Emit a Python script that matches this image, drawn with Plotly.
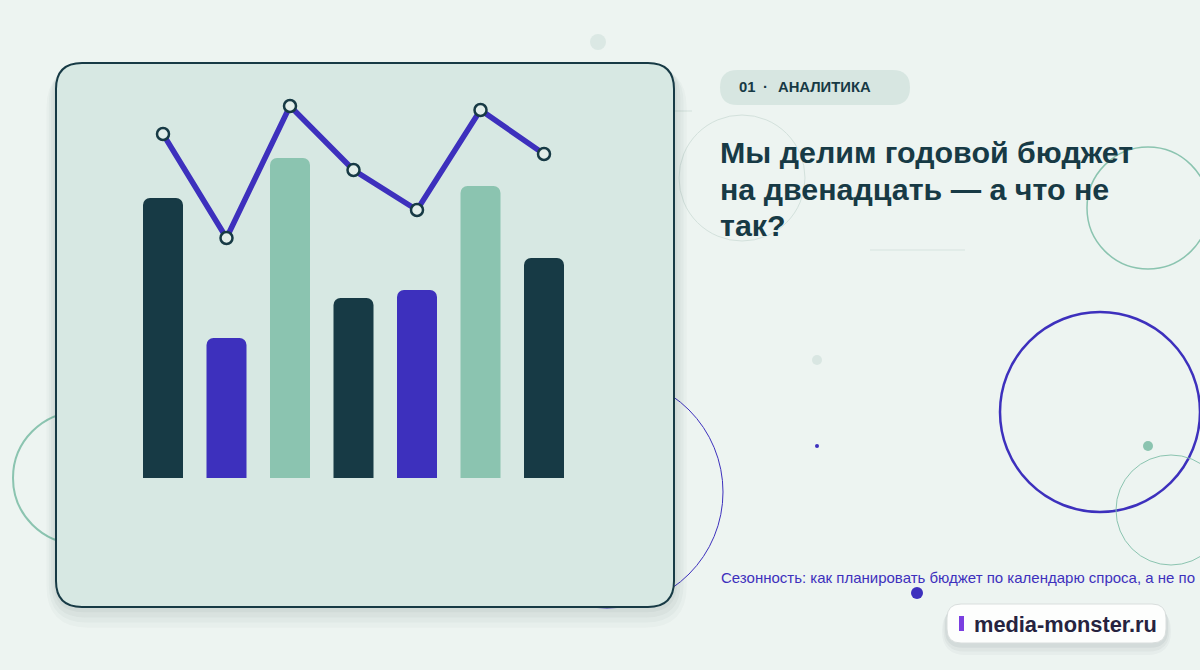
import plotly.graph_objects as go

W, H = 1200, 670

# ---- data ----
categories = ["1", "2", "3", "4", "5", "6", "7"]
bar_values = [70, 35, 80, 45, 47, 73, 55]
line_values = [86, 60, 93, 77, 67, 92, 81]
bar_colors = ["#173a45", "#3d30bd", "#8bc4b0", "#173a45", "#3d30bd", "#8bc4b0", "#173a45"]

tag_num = "01"
tag_dot = "·"
tag_word = "АНАЛИТИКА"
title_lines = ["Мы делим годовой бюджет", "на двенадцать — а что не", "так?"]
subtitle_text = "Сезонность: как планировать бюджет по календарю спроса, а не по"
logo_text = "media-monster.ru"

DARK = "#173a45"
BLUE = "#3d30bd"
GREEN = "#8bc4b0"
FONT = "Liberation Sans, Arial, sans-serif"


def px(x):
    return x / W


def py(y):
    return 1 - y / H


def rrect(x0, y0, x1, y1, r):
    pts = [
        f"M {px(x0 + r)} {py(y0)}",
        f"L {px(x1 - r)} {py(y0)}",
        f"Q {px(x1)} {py(y0)} {px(x1)} {py(y0 + r)}",
        f"L {px(x1)} {py(y1 - r)}",
        f"Q {px(x1)} {py(y1)} {px(x1 - r)} {py(y1)}",
        f"L {px(x0 + r)} {py(y1)}",
        f"Q {px(x0)} {py(y1)} {px(x0)} {py(y1 - r)}",
        f"L {px(x0)} {py(y0 + r)}",
        f"Q {px(x0)} {py(y0)} {px(x0 + r)} {py(y0)}",
        "Z",
    ]
    return " ".join(pts)


shapes = []


def circle(cx, cy, r, line=None, width=1, fill="rgba(0,0,0,0)"):
    shapes.append(dict(
        type="circle", xref="paper", yref="paper", layer="below",
        x0=px(cx - r), x1=px(cx + r), y0=py(cy + r), y1=py(cy - r),
        line=dict(color=line if line else "rgba(0,0,0,0)", width=width if line else 0),
        fillcolor=fill,
    ))


def rect_path(x0, y0, x1, y1, r, fill, line=None, width=0):
    shapes.append(dict(
        type="path", xref="paper", yref="paper", layer="below",
        path=rrect(x0, y0, x1, y1, r), fillcolor=fill,
        line=dict(color=line if line else "rgba(0,0,0,0)", width=width if line else 0),
    ))


def hline(x0, x1, y, color, width=1):
    shapes.append(dict(
        type="line", xref="paper", yref="paper", layer="below",
        x0=px(x0), x1=px(x1), y0=py(y), y1=py(y),
        line=dict(color=color, width=width),
    ))


# background decorations (behind card)
circle(598, 42, 8, fill="#dbe8e4")
circle(79, 478, 66, line=GREEN, width=2)
circle(607, 492, 116, line=BLUE, width=1)
circle(742, 178, 63, line="#d3e1dc", width=1)
hline(674, 692, 111, "#d3e1dc")
hline(870, 965, 250, "#d6e3df")
circle(1148, 208, 61, line=GREEN, width=1.5)
circle(1100, 412, 100, line=BLUE, width=2.5)
circle(1171, 510, 55, line=GREEN, width=1)
circle(1148, 446, 5, fill=GREEN)
circle(817, 360, 5, fill="#d9e6e2")
circle(817, 446, 2, fill=BLUE)
circle(917, 593, 6, fill=BLUE)

# card shadow
for i, a in enumerate([0.025, 0.03, 0.035, 0.04]):
    g = 16 - i * 4
    rect_path(56 - g * 0.6, 63 + g * 0.2, 674 + g * 0.8, 607 + g * 1.3, 26 + g,
              f"rgba(20,50,60,{a})")

# card
rect_path(56, 63, 674, 607, 26, "#d7e8e3", line=DARK, width=2)

# tag pill
rect_path(720, 70, 910, 105, 17.5, "#d7e6e1")

# logo badge shadow + badge
for i, a in enumerate([0.03, 0.04, 0.05]):
    g = 10 - i * 3
    rect_path(947 - g * 0.5, 604 + g * 0.3, 1166 + g * 0.5, 643 + g * 1.2, 14 + g,
              f"rgba(20,40,50,{a})")
rect_path(947, 604, 1166, 643, 14, "#fdfefd", line="#d9dedd", width=1)
shapes.append(dict(
    type="rect", xref="paper", yref="paper", layer="above",
    x0=px(959), x1=px(964), y0=py(631), y1=py(616),
    fillcolor="#7a3fe0", line=dict(width=0),
))

fig = go.Figure()

fig.add_trace(go.Bar(
    x=categories, y=bar_values,
    marker=dict(color=bar_colors, cornerradius=7, line=dict(width=0)),
    width=0.63, hoverinfo="skip",
))
fig.add_trace(go.Scatter(
    x=categories, y=line_values, mode="lines+markers",
    line=dict(color=BLUE, width=5.5),
    marker=dict(size=12, color="#e2eeea", line=dict(color=DARK, width=2.5)),
    hoverinfo="skip",
))


def ann(text, x, y, size, color, bold=False, xanchor="left", yanchor="middle"):
    return dict(text=f"<b>{text}</b>" if bold else text, x=px(x), y=py(y),
                xref="paper", yref="paper", xanchor=xanchor, yanchor=yanchor,
                align="left", showarrow=False,
                font=dict(family=FONT, size=size, color=color))


annotations = [
    ann(tag_num, 737, 87, 14.8, DARK, bold=True),
    ann(tag_dot, 765, 87, 14.8, DARK, bold=True, xanchor="center"),
    ann(tag_word, 776, 87, 14.8, DARK, bold=True),
    ann(subtitle_text, 719, 577, 15, BLUE),
    ann(logo_text, 972, 624, 21.8, "#26233f", bold=True),
]
for i, line in enumerate(title_lines):
    annotations.append(ann(line, 718, 152 + i * 36.7, 30.4, DARK, bold=True))

fig.update_layout(
    width=W, height=H,
    margin=dict(l=0, r=0, t=0, b=0),
    paper_bgcolor="#edf4f1",
    plot_bgcolor="rgba(0,0,0,0)",
    showlegend=False,
    shapes=shapes,
    annotations=annotations,
    bargap=0.3,
    xaxis=dict(domain=[px(131.25), px(575.75)], range=[-0.5, 6.5], type="category",
               visible=False, fixedrange=True),
    yaxis=dict(domain=[py(478), py(78)], range=[0, 100], visible=False, fixedrange=True),
)

fig.write_html(
    "out.html",
    config={"displayModeBar": False},
    post_script="document.body.style.margin='0px';document.body.style.overflow='hidden';",
)
